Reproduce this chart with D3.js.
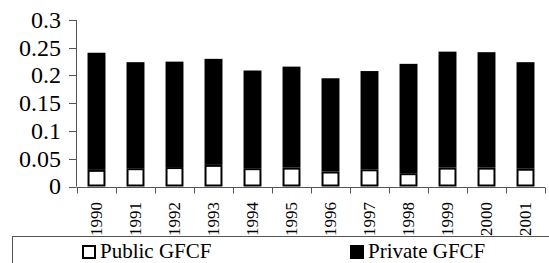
<!DOCTYPE html>
<html>
<head>
<meta charset="utf-8">
<script src="https://cdn.jsdelivr.net/npm/d3@7"></script>
<style>
  body { margin: 0; background: #fff; }
  text { font-family: "Liberation Serif", "Times New Roman", serif; fill: #000; }
  .ytick { font-size: 24px; }
  .xtick { font-size: 17px; }
  .legend { font-size: 21px; }
</style>
</head>
<body>
<svg id="chart" width="549" height="263"></svg>
<script>
// values (share of GDP)
const years = ["1990", "1991", "1992", "1993", "1994", "1995", "1996", "1997", "1998", "1999", "2000", "2001"];
const publicGFCF  = [0.030, 0.033, 0.035, 0.039, 0.033, 0.034, 0.027, 0.031, 0.024, 0.034, 0.034, 0.032];
const privateGFCF = [0.211, 0.191, 0.190, 0.191, 0.176, 0.182, 0.168, 0.177, 0.197, 0.209, 0.208, 0.192];
const yTicks = [0, 0.05, 0.1, 0.15, 0.2, 0.25, 0.3];
const seriesNames = ["Public GFCF", "Private GFCF"];

const svg = d3.select("#chart");

const x = d3.scaleBand().domain(years).range([77, 545]).paddingInner(0.54).paddingOuter(0.27);
const y = d3.scaleLinear().domain([0, 0.3]).range([186.5, 20]);

const rows = years.map((yr, i) => ({ year: yr, pub: publicGFCF[i], priv: privateGFCF[i] }));
const stacked = d3.stack().keys(["pub", "priv"])(rows);

// private part: solid black
svg.append("g").selectAll("rect")
    .data(stacked[1])
    .join("rect")
    .attr("x", d => x(d.data.year))
    .attr("y", d => y(d[1]))
    .attr("width", x.bandwidth())
    .attr("height", d => y(d[0]) - y(d[1]))
    .attr("fill", "#000");

// public part: white box with black border
svg.append("g").selectAll("rect")
    .data(stacked[0])
    .join("rect")
    .attr("x", d => x(d.data.year) + 1)
    .attr("y", d => y(d[1]) + 1)
    .attr("width", x.bandwidth() - 2)
    .attr("height", d => y(d[0]) - y(d[1]) - 2)
    .attr("fill", "#fff")
    .attr("stroke", "#000")
    .attr("stroke-width", 2);

// y axis
const ya = svg.append("g");
ya.append("line")
    .attr("x1", 76.5).attr("x2", 76.5)
    .attr("y1", y(0.3)).attr("y2", y(0))
    .attr("stroke", "#555");
yTicks.forEach(t => {
  const yy = Math.round(y(t)) + 0.5;
  ya.append("line")
    .attr("x1", 69).attr("x2", 76.5)
    .attr("y1", yy).attr("y2", yy)
    .attr("stroke", "#555");
  ya.append("text")
    .attr("class", "ytick")
    .attr("x", 61)
    .attr("y", y(t))
    .attr("dy", "0.33em")
    .attr("text-anchor", "end")
    .text(String(t));
});

// x axis
const step = x.step();
const y0 = Math.round(y(0)) + 0.5;
const xa = svg.append("g");
xa.append("line")
    .attr("x1", 76.5).attr("x2", 545)
    .attr("y1", y0).attr("y2", y0)
    .attr("stroke", "#555");
d3.range(years.length + 1).forEach(i => {
  const xx = Math.round(77 + i * step) + 0.5;
  xa.append("line")
    .attr("x1", xx).attr("x2", xx)
    .attr("y1", y0).attr("y2", y0 + 6)
    .attr("stroke", "#555");
});
years.forEach(yr => {
  xa.append("text")
    .attr("class", "xtick")
    .attr("transform", `translate(${x(yr) + x.bandwidth() / 2},202) rotate(-90)`)
    .attr("dy", "0.33em")
    .attr("text-anchor", "end")
    .text(yr);
});

// legend box
const lg = svg.append("g");
lg.append("rect")
    .attr("x", 12.5).attr("y", 236.5)
    .attr("width", 560).attr("height", 60)
    .attr("fill", "#fff")
    .attr("stroke", "#555");
const legendX = [82, 350];
seriesNames.forEach((name, i) => {
  lg.append("rect")
    .attr("x", legendX[i] + 1).attr("y", 246)
    .attr("width", 12).attr("height", 12)
    .attr("fill", i === 0 ? "#fff" : "#000")
    .attr("stroke", "#000")
    .attr("stroke-width", 2);
  lg.append("text")
    .attr("class", "legend")
    .attr("x", legendX[i] + 18)
    .attr("y", 258)
    .text(name);
});
</script>
</body>
</html>
